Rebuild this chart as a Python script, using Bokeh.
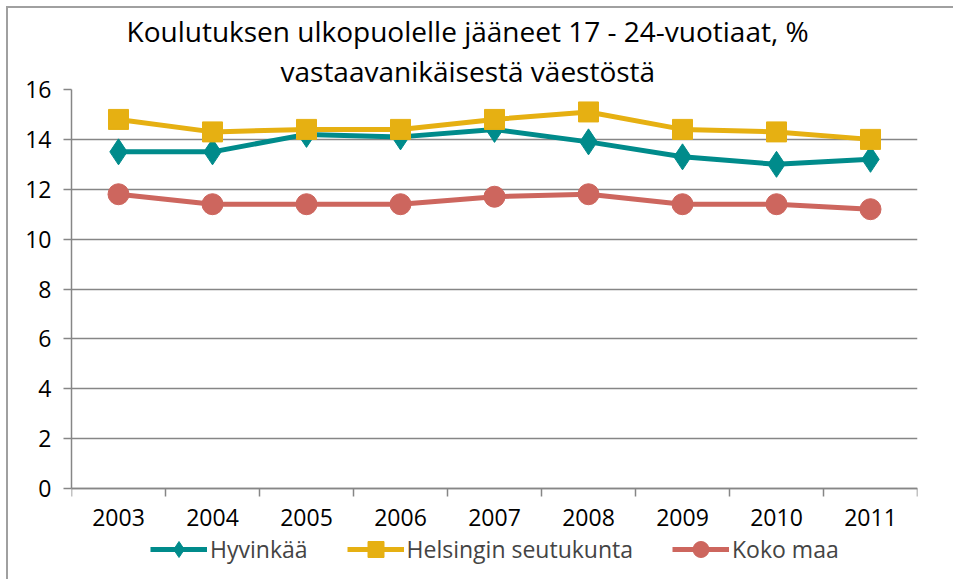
from bokeh.plotting import figure
from bokeh.models import FixedTicker, Legend, LegendItem, Range1d, Title
from bokeh.embed import file_html
from bokeh.resources import INLINE

years = [2003, 2004, 2005, 2006, 2007, 2008, 2009, 2010, 2011]
hyvinkaa = [13.5, 13.5, 14.2, 14.1, 14.4, 13.9, 13.3, 13.0, 13.2]
helsinki = [14.8, 14.3, 14.4, 14.4, 14.8, 15.1, 14.4, 14.3, 14.0]
koko_maa = [11.8, 11.4, 11.4, 11.4, 11.7, 11.8, 11.4, 11.4, 11.2]
y_ticks = [0, 2, 4, 6, 8, 10, 12, 14, 16]
title_lines = ["Koulutuksen ulkopuolelle jääneet 17 - 24-vuotiaat, %",
               "vastaavanikäisestä väestöstä"]
title_offsets = [55, 209]

FONT = "Open Sans"
GRAY = "#868686"

# plot area: 399 px for 0..16, plus 91 px below the zero line for labels and legend
PLOT_H = 399
BELOW_H = 91
y_min = -y_ticks[-1] * BELOW_H / PLOT_H

p = figure(frame_width=846, frame_height=PLOT_H + BELOW_H, output_backend="svg",
           toolbar_location=None,
           x_range=Range1d(years[0] - 0.5, years[-1] + 0.5),
           y_range=Range1d(y_min, y_ticks[-1]),
           min_border_left=63, min_border_right=36, min_border_top=81, min_border_bottom=0)
p.styles = {"margin-left": "6px", "margin-top": "6px",
            "border-left": "2px solid #a0a0a0", "border-top": "2px solid #a0a0a0"}

p.title.visible = False
for line, off in reversed(list(zip(title_lines, title_offsets))):
    t = Title(text=line, align="left", offset=off, text_font=FONT, text_font_size="28px",
              text_font_style="normal", text_color="#000000", standoff=0)
    p.add_layout(t, "above")

p.outline_line_color = None
p.background_fill_color = "white"
p.border_fill_color = "white"

# grid
p.xgrid.grid_line_color = None
p.ygrid.grid_line_color = GRAY
p.ygrid.grid_line_width = 1.5
p.ygrid.ticker = FixedTicker(ticks=y_ticks)

# y axis
p.yaxis.ticker = FixedTicker(ticks=y_ticks)
p.yaxis.bounds = (y_ticks[0], y_ticks[-1])
p.yaxis.axis_line_color = GRAY
p.yaxis.axis_line_width = 1.5
p.yaxis.major_tick_line_color = GRAY
p.yaxis.major_tick_line_width = 1.5
p.yaxis.major_tick_out = 8
p.yaxis.major_tick_in = 0
p.yaxis.minor_tick_line_color = None
p.yaxis.major_label_text_font = FONT
p.yaxis.major_label_text_font_size = "23px"
p.yaxis.major_label_text_color = "#000000"
p.yaxis.major_label_standoff = 12

# x axis, drawn at y = 0
bounds = [y - 0.5 for y in years] + [years[-1] + 0.5]
p.xaxis.fixed_location = 0
p.xaxis.ticker = FixedTicker(ticks=years, minor_ticks=bounds)
p.xaxis.major_label_overrides = {y: str(y) for y in years}
p.xaxis.axis_line_color = GRAY
p.xaxis.axis_line_width = 1.5
p.xaxis.major_tick_line_color = None
p.xaxis.minor_tick_line_color = GRAY
p.xaxis.minor_tick_line_width = 1.5
p.xaxis.minor_tick_out = 8
p.xaxis.minor_tick_in = 0
p.xaxis.major_label_text_font = FONT
p.xaxis.major_label_text_font_size = "23px"
p.xaxis.major_label_text_color = "#000000"
p.xaxis.major_label_standoff = 12

series = [
    ("Hyvinkää", hyvinkaa, "#008B8B", "diamond", 26),
    ("Helsingin seutukunta", helsinki, "#E6B012", "square", 20),
    ("Koko maa", koko_maa, "#CD665E", "circle", 21),
]
items = []
for name, vals, col, marker, size in series:
    l = p.line(years, vals, line_color=col, line_width=5)
    s = p.scatter(years, vals, marker=marker, size=size, fill_color=col, line_color=col)
    items.append(LegendItem(label=name, renderers=[l, s]))

legend = Legend(items=items, orientation="horizontal", location=(79, 10),
                label_text_font=FONT, label_text_font_size="23px",
                glyph_width=57, glyph_height=40, label_standoff=3, spacing=39,
                border_line_color=None, background_fill_alpha=0,
                padding=0, margin=0)
p.add_layout(legend, "center")

open("out.html", "w").write(file_html(p, INLINE))
